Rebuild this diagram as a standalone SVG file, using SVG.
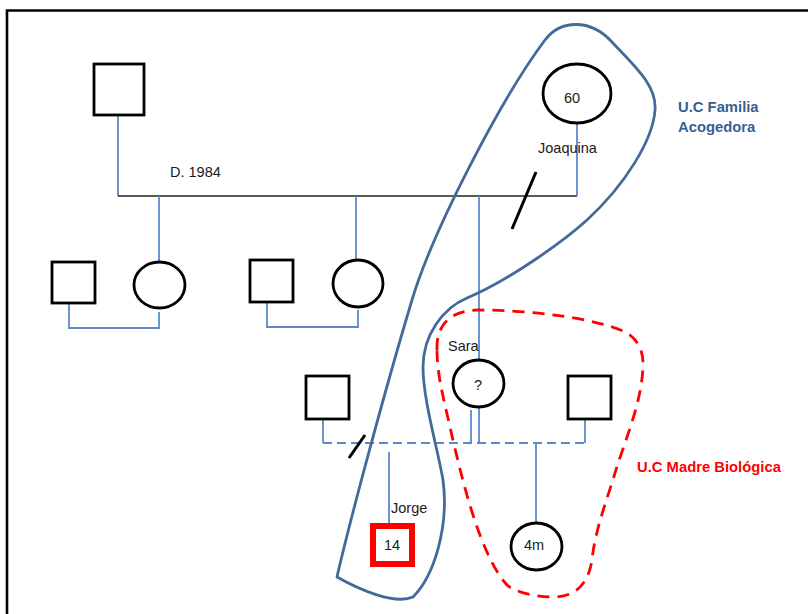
<svg xmlns="http://www.w3.org/2000/svg" width="808" height="614" viewBox="0 0 808 614">
<style>
.node{fill:#fff;stroke:#000;stroke-width:2.8}
.conn{fill:none;stroke:#5b89c7;stroke-width:1.8}
.txt{font-family:"Liberation Sans",Arial,sans-serif;font-size:14.5px;fill:#1a1a1a}
.lbl{font-family:"Liberation Sans",Arial,sans-serif;font-size:14.8px;font-weight:bold}
</style>
<rect width="808" height="614" fill="#fff"/>
<path d="M7,614 L7,10.5 L808,10.5" fill="none" stroke="#000" stroke-width="2.6"/>

<g id="connectors">
  <path class="conn" d="M118,115 L118,196"/>
  <path d="M118,196 L577,196" fill="none" stroke="#222" stroke-width="1.6"/>
  <path class="conn" d="M577,123 L577,196"/>
  <path class="conn" d="M159,196 L159,262"/>
  <path class="conn" d="M356,196 L356,260"/>
  <path class="conn" d="M479,196 L479,443"/>
  <path class="conn" d="M69,303 L69,328 L159,328 L159,312"/>
  <path class="conn" d="M267,302 L267,327 L358,327 L358,310"/>
  <path class="conn" d="M323,419 L323,443"/>
  <path class="conn" d="M585,419 L585,443"/>
  <path class="conn" d="M471,410 L471,443"/>
  <path class="conn" d="M323,443 L585,443" stroke-dasharray="9,5"/>
  <path class="conn" d="M389,452 L389,523"/>
  <path class="conn" d="M536,443 L536,523"/>
  <path d="M536,172 L512,229" stroke="#000" stroke-width="3"/>
  <path d="M365,435 L349,458" stroke="#000" stroke-width="3"/>
</g>

<g id="n-grandfather"><rect class="node" x="94" y="64" width="50" height="51"/></g>
<g id="n-joaquina">
  <ellipse class="node" cx="577" cy="93.5" rx="34" ry="29.5"/>
  <text class="txt" x="572" y="103" text-anchor="middle">60</text>
  <text class="txt" x="538" y="153">Joaquina</text>
</g>
<g id="n-d1984"><text class="txt" x="170" y="177">D. 1984</text></g>

<g id="n-son1"><rect class="node" x="52" y="262" width="43" height="41"/></g>
<g id="n-daughter1"><ellipse class="node" cx="159.5" cy="285" rx="25.5" ry="23"/></g>
<g id="n-son2"><rect class="node" x="250" y="260" width="43" height="42"/></g>
<g id="n-daughter2"><ellipse class="node" cx="358" cy="283.5" rx="25" ry="23.5"/></g>

<g id="n-father1"><rect class="node" x="306" y="376" width="43" height="43"/></g>
<g id="n-sara">
  <ellipse class="node" cx="478.5" cy="383.5" rx="25.5" ry="23.5"/>
  <text class="txt" x="478" y="390" text-anchor="middle" font-size="13">?</text>
  <text class="txt" x="448" y="351">Sara</text>
</g>
<g id="n-father2"><rect class="node" x="568" y="376" width="43" height="43"/></g>

<g id="n-jorge">
  <rect x="373" y="526" width="39" height="38" fill="#fff" stroke="#ff0000" stroke-width="6"/>
  <text class="txt" x="392" y="550" text-anchor="middle" font-size="15.5">14</text>
  <text class="txt" x="391" y="513">Jorge</text>
</g>
<g id="n-baby">
  <ellipse class="node" cx="536.5" cy="546.5" rx="25.5" ry="23.5"/>
  <text class="txt" x="534" y="550" text-anchor="middle">4m</text>
</g>

<g id="g-foster">
  <path d="M337,577 C350,520 385,390 412,300 C432,233 500,100 545,40 C560,20 590,18 612,42 C634,66 657,85 655,110 C653,140 625,185 587,220 C565,240 510,280 467,298 C443,308 423,335 423,367 C423,400 438,450 443,480 C449,525 435,575 413,597 C395,605 360,590 337,577 Z" fill="none" stroke="#44699b" stroke-width="2.8" stroke-linejoin="round"/>
  <text class="lbl" fill="#365f91" x="678" y="112">U.C Familia</text>
  <text class="lbl" fill="#365f91" x="678" y="132">Acogedora</text>
</g>

<g id="g-bio">
  <path d="M437,350 C436,325 450,311 477,310 C530,310 595,318 625,332 C637,338 643,350 643,363 C643,400 625,440 615,473 C607,500 595,530 592,560 C588,585 575,597 553,597 C535,597 515,592 507,585 C480,555 462,480 450,427 C444,400 437,375 437,350 Z" fill="none" stroke="#ff0000" stroke-width="2.8" stroke-dasharray="12,8"/>
  <text class="lbl" fill="#ff0000" x="637" y="472">U.C Madre Biológica</text>
</g>
</svg>
